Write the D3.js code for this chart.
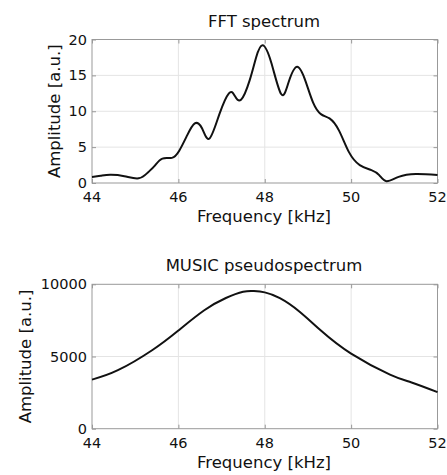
<!DOCTYPE html>
<html>
<head>
<meta charset="utf-8">
<script src="https://cdn.jsdelivr.net/npm/d3@7"></script>
<style>
  body { margin: 0; background: #fff; }
  text { font-family: "DejaVu Sans", sans-serif; fill: #111; }
</style>
</head>
<body>
<svg id="canvas"></svg>
<script>
// FFT spectrum
const fftFreq = [44.0, 44.2, 44.42, 44.75, 45.08, 45.3, 45.45, 45.63, 45.85, 46.02, 46.2, 46.38, 46.55, 46.72, 46.95, 47.17, 47.3, 47.45, 47.65, 47.8, 47.95, 48.15, 48.38, 48.55, 48.75, 48.95, 49.12, 49.3, 49.5, 49.72, 49.95, 50.2, 50.47, 50.65, 50.82, 51.1, 51.5, 52.0];
const fftAmp = [0.85, 1.0, 1.15, 0.95, 0.65, 1.5, 2.4, 3.4, 3.5, 4.5, 6.6, 8.3, 7.6, 6.2, 9.6, 12.5, 12.2, 11.6, 14.3, 17.5, 19.2, 16.8, 12.4, 14.0, 16.2, 14.1, 11.2, 9.6, 9.0, 7.3, 4.3, 2.5, 1.8, 1.1, 0.25, 0.85, 1.25, 1.1];

// MUSIC pseudospectrum
const musicFreq = [44.0, 44.6, 45.4, 46.0, 46.6, 47.1, 47.5, 47.75, 48.0, 48.35, 48.8, 49.3, 50.0, 50.9, 51.4, 52.0];
const musicAmp = [3400, 4050, 5450, 6800, 8200, 9050, 9480, 9530, 9440, 9040, 8120, 6800, 5200, 3750, 3200, 2530];

const freqTicks = [44, 46, 48, 50, 52];
const fftTicks = [0, 5, 10, 15, 20];
const musicTicks = [0, 5000, 10000];

let svg = d3.select('#canvas')
  .attr('width', 447)
  .attr('height', 475);

function drawPanel(opt) {
  let x = d3.scaleLinear().domain([44, 52]).range([92, 437.5]);
  let y = d3.scaleLinear().domain(opt.yDomain).range([opt.bottom, opt.top]);
  let g = svg.append('g');

  // grid
  g.selectAll('.vg').data(freqTicks.slice(1, -1)).enter().append('line')
    .attr('x1', d => x(d)).attr('x2', d => x(d))
    .attr('y1', opt.top).attr('y2', opt.bottom)
    .style('stroke', '#e4e4e4').style('stroke-width', 1);
  g.selectAll('.hg').data(opt.yTicks.slice(1, -1)).enter().append('line')
    .attr('x1', x(44)).attr('x2', x(52))
    .attr('y1', d => y(d)).attr('y2', d => y(d))
    .style('stroke', '#e4e4e4').style('stroke-width', 1);

  // inward ticks on all four sides
  let axes = [
    d3.axisBottom(x).tickValues(freqTicks).tickSize(-4).tickFormat(''),
    d3.axisTop(x).tickValues(freqTicks).tickSize(-4).tickFormat(''),
    d3.axisLeft(y).tickValues(opt.yTicks).tickSize(-4).tickFormat(''),
    d3.axisRight(y).tickValues(opt.yTicks).tickSize(-4).tickFormat('')
  ];
  let pos = [
    `translate(0,${opt.bottom})`, `translate(0,${opt.top})`,
    `translate(${x(44)},0)`, `translate(${x(52)},0)`
  ];
  axes.forEach((a, i) => {
    let ag = g.append('g').attr('transform', pos[i]).call(a);
    ag.selectAll('line').style('stroke', '#999');
    ag.select('.domain').remove();
  });

  g.append('rect')
    .attr('x', x(44)).attr('y', opt.top)
    .attr('width', x(52) - x(44)).attr('height', opt.bottom - opt.top)
    .style('fill', 'none').style('stroke', '#999').style('stroke-width', 1);

  // tick labels
  g.selectAll('.xl').data(freqTicks).enter().append('text')
    .attr('x', d => x(d)).attr('y', opt.bottom + 19)
    .attr('text-anchor', 'middle').style('font-size', '14.5px')
    .text(d => d);
  g.selectAll('.yl').data(opt.yTicks).enter().append('text')
    .attr('x', 87).attr('y', d => y(d) + 5)
    .attr('text-anchor', 'end').style('font-size', '14.5px')
    .text(d => d);

  // curve
  let line = d3.line()
    .x(d => x(d[0])).y(d => y(d[1]))
    .curve(d3.curveNatural);
  g.append('path')
    .datum(d3.zip(opt.xs, opt.ys))
    .attr('d', line)
    .style('fill', 'none').style('stroke', '#111').style('stroke-width', 2);

  // titles
  g.append('text')
    .attr('x', 264).attr('y', opt.top - 13)
    .attr('text-anchor', 'middle').style('font-size', '16.5px')
    .text(opt.title);
  g.append('text')
    .attr('x', 264).attr('y', opt.bottom + 39)
    .attr('text-anchor', 'middle').style('font-size', '16.5px')
    .text('Frequency [kHz]');
  g.append('text')
    .attr('transform', `translate(${opt.ylabelX},${(opt.top + opt.bottom) / 2}) rotate(-90)`)
    .attr('text-anchor', 'middle').style('font-size', '16.5px')
    .text('Amplitude [a.u.]');
}

drawPanel({
  top: 39.5, bottom: 183, yDomain: [0, 20], yTicks: fftTicks,
  xs: fftFreq, ys: fftAmp, title: 'FFT spectrum', ylabelX: 60
});
drawPanel({
  top: 284.3, bottom: 428.7, yDomain: [0, 10000], yTicks: musicTicks,
  xs: musicFreq, ys: musicAmp, title: 'MUSIC pseudospectrum', ylabelX: 31
});
</script>
</body>
</html>
